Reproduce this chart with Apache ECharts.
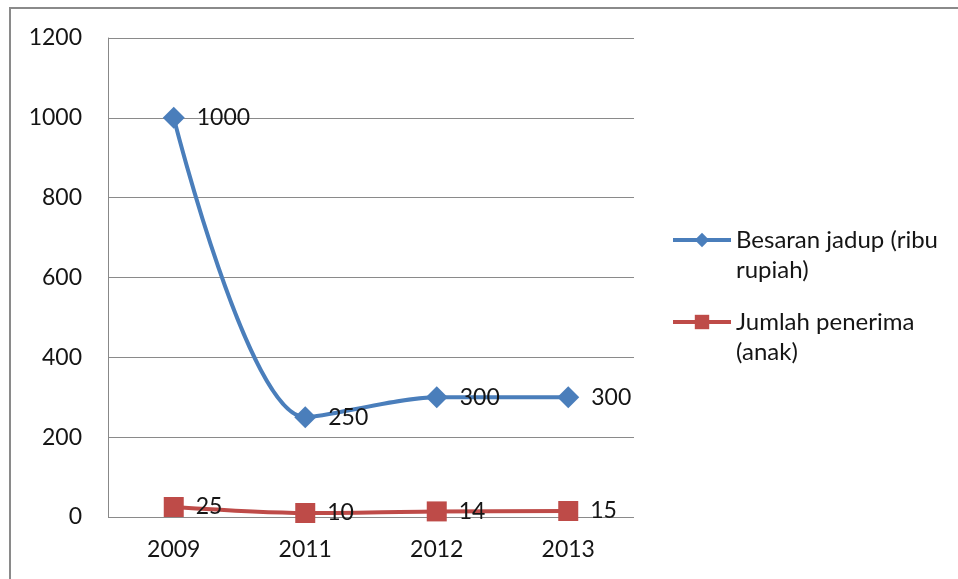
<!DOCTYPE html>
<html>
<head>
<meta charset="utf-8">
<script src="https://cdn.jsdelivr.net/npm/echarts@6/dist/echarts.min.js"></script>
<style>html,body{margin:0;padding:0;background:#fff}#c{width:958px;height:579px}</style>
</head>
<body>
<div id="c"></div>
<script>
var categories = ['2009', '2011', '2012', '2013'];
var besaranJadup = [1000, 250, 300, 300];
var jumlahPenerima = [25, 10, 14, 15];
var seriesNames = ['Besaran jadup (ribu rupiah)', 'Jumlah penerima (anak)'];
var legendLabels = ['\nBesaran jadup (ribu\nrupiah)', '\nJumlah penerima\n(anak)'];
var yTicks = [0, 200, 400, 600, 800, 1000, 1200];

var font = 'Lato, "Open Sans", sans-serif';
var txt = '#151515';
function legendFor(i, top) {
  return {
    orient: 'vertical', left: 671, top: top, padding: 0,
    itemWidth: 58, itemHeight: 18,
    lineStyle: {width: 4},
    textStyle: {fontFamily: font, fontSize: 24, color: txt, lineHeight: 30},
    formatter: function (n) { return legendLabels[seriesNames.indexOf(n)]; },
    data: [seriesNames[i]]
  };
}
var chart = echarts.init(document.getElementById('c'));
chart.setOption({
  animation: false,
  graphic: [{
    type: 'rect', shape: {x: 10, y: 8, width: 1000, height: 700},
    style: {fill: 'none', stroke: '#8a8a8a', lineWidth: 2}, silent: true
  }],
  grid: {left: 108, top: 38, right: 324, bottom: 62},
  legend: [legendFor(0, 195), legendFor(1, 277)],
  xAxis: {
    type: 'category', data: categories, boundaryGap: true,
    axisLine: {show: false}, axisTick: {show: false},
    axisLabel: {fontFamily: font, fontSize: 23, color: txt, margin: 21}
  },
  yAxis: {
    type: 'value', min: 0, max: 1200, interval: 200,
    axisLine: {show: true, lineStyle: {color: '#888', width: 1}},
    axisTick: {show: false},
    splitLine: {lineStyle: {color: '#8a8a8a', width: 1}},
    axisLabel: {fontFamily: font, fontSize: 23, color: txt, margin: 26,
      formatter: function (v) { return yTicks.indexOf(v) >= 0 ? String(v) : ''; }}
  },
  series: [{
    name: seriesNames[0], type: 'line', data: besaranJadup, smooth: 0.3,
    symbol: 'diamond', symbolSize: 22,
    lineStyle: {color: '#4a7ebb', width: 4},
    itemStyle: {color: '#4a7ebb'},
    label: {show: true, position: 'right', distance: 12, fontFamily: font, fontSize: 23, color: txt}
  }, {
    name: seriesNames[1], type: 'line', data: jumlahPenerima, smooth: 0.3,
    symbol: 'rect', symbolSize: 20,
    lineStyle: {color: '#be4b48', width: 4},
    itemStyle: {color: '#be4b48'},
    label: {show: true, position: 'right', distance: 12, fontFamily: font, fontSize: 23, color: txt}
  }]
});
</script>
</body>
</html>
